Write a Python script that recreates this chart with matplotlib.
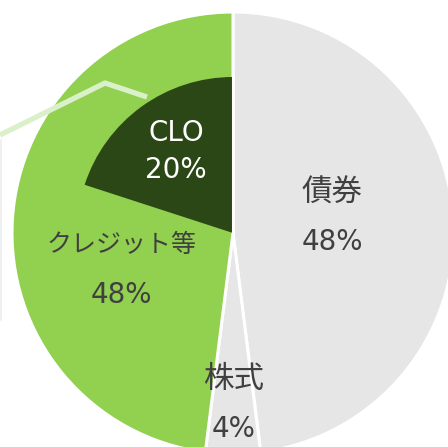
import matplotlib
matplotlib.use("Agg")
import matplotlib.pyplot as plt

# data
outer_labels = ["債券", "株式", "クレジット等"]
outer_values = [48, 4, 48]
outer_pct = ["48%", "4%", "48%"]
inner_label = "CLO"
inner_value = 20
inner_pct = "20%"

GRAY = "#E7E6E6"
GREEN = "#92D050"
DARK = "#2A4715"
TXT = "#404040"
LAT = ["DejaVu Sans", "Noto Sans CJK JP"]
JP = ["Noto Sans CJK JP", "DejaVu Sans"]

W, H = 448, 447
fig = plt.figure(figsize=(W / 100, H / 100), dpi=100)
ax = fig.add_axes([0, 0, 1, 1])

cx, cy = 233, 233
R_out, R_in = 221, 156

wedges, _ = ax.pie(outer_values, colors=[GRAY, GRAY, GREEN], startangle=-90,
                   counterclock=True, radius=R_out, center=(cx, cy),
                   wedgeprops=dict(edgecolor="white", linewidth=2.2), frame=True)
iw, _ = ax.pie([inner_value, 100 - inner_value], colors=[DARK, "none"],
               startangle=-90, counterclock=False, radius=R_in, center=(cx, cy),
               wedgeprops=dict(linewidth=0), frame=True)
iw[1].set_visible(False)
ax.plot([cx, cx], [cy, cy - R_in], color="white", lw=2.2, zorder=5)

ax.set_xlim(0, W)
ax.set_ylim(H, 0)
ax.set_aspect("equal")
ax.axis("off")

# leader line remnants
ax.plot([0, 105, 147], [135, 83, 97], color="#DAF0CA", lw=3.8, solid_capstyle="butt", zorder=6)
ax.plot([1, 1], [140, 320], color="#EEEEEE", lw=1.2, zorder=6)

fs = 20
fj = 22
ax.text(332, 193, outer_labels[0], ha="center", va="center", fontsize=fj, color=TXT, family=JP, zorder=7)
ax.text(332, 242, outer_pct[0], ha="center", va="center", fontsize=fs, color=TXT, family=LAT, zorder=7)
ax.text(234, 380, outer_labels[1], ha="center", va="center", fontsize=fj, color=TXT, family=JP, zorder=7)
ax.text(234, 429, outer_pct[1], ha="center", va="center", fontsize=fs, color=TXT, family=LAT, zorder=7)
ax.text(122, 245, outer_labels[2], ha="center", va="center", fontsize=18, color=TXT, family=JP, zorder=7)
ax.text(121, 295, outer_pct[2], ha="center", va="center", fontsize=fs, color=TXT, family=LAT, zorder=7)
ax.text(176, 133, inner_label, ha="center", va="center", fontsize=fs, color="white", family=LAT, zorder=7)
ax.text(176, 170, inner_pct, ha="center", va="center", fontsize=fs, color="white", family=LAT, zorder=7)

fig.savefig("out.png", dpi=100)
